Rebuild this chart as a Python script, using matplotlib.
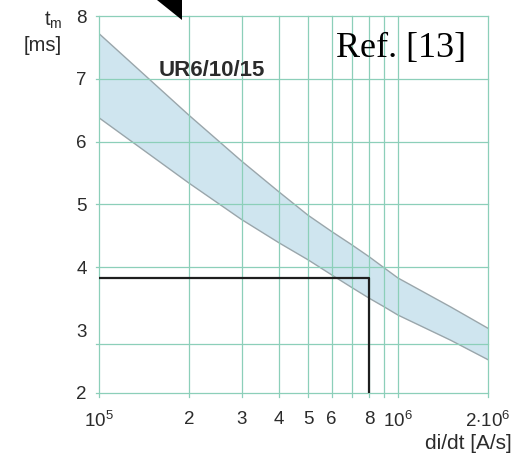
import matplotlib
matplotlib.use('Agg')
import matplotlib.pyplot as plt
import matplotlib.transforms as mtransforms
from matplotlib.patches import Polygon

plt.rcParams['font.family'] = ['Liberation Sans', 'DejaVu Sans']
plt.rcParams['mathtext.fontset'] = 'custom'
plt.rcParams['mathtext.rm'] = 'Liberation Sans'
plt.rcParams['mathtext.it'] = 'Liberation Sans'

# di/dt values [A/s]
didt = [1e5, 2e5, 3e5, 4e5, 5e5, 6e5, 7e5, 8e5, 9e5, 1e6, 1.5e6, 2e6]
# band limits of t_m [ms]
tm_upper = [7.72, 6.42, 5.69, 5.20, 4.83, 4.57, 4.36, 4.17, 3.99, 3.83, 3.37, 3.03]
tm_lower = [6.38, 5.34, 4.76, 4.39, 4.12, 3.88, 3.68, 3.51, 3.37, 3.24, 2.84, 2.53]

# marked operating point
mark_x = 8e5
mark_y = 3.83

x_ticks = [1e5, 2e5, 3e5, 4e5, 5e5, 6e5, 8e5, 1e6, 2e6]
x_labels = ['$10^5$', '2', '3', '4', '5', '6', '8', '$10^6$', '$2{\\cdot}10^6$']
x_grid = [1e5, 2e5, 3e5, 4e5, 5e5, 6e5, 7e5, 8e5, 9e5, 1e6, 2e6]
y_ticks = [2, 3, 4, 5, 6, 7, 8]
y_grid = [2, 2.78, 4, 5, 6, 7, 8]

grid_col = '#8ccfb9'
txt_col = '#2b2b2b'

fig = plt.figure(figsize=(5.16, 4.55), dpi=100)
ax = fig.add_axes([0.1919, 0.1363, 0.7538, 0.8285])

ax.fill_between(didt, tm_lower, tm_upper, color='#cfe5ef', lw=0, zorder=1)
ax.plot(didt, tm_upper, color='#9aa6ab', lw=1.0, zorder=2)
ax.plot(didt, tm_lower, color='#9aa6ab', lw=1.0, zorder=2)

ax.plot([1e5, mark_x, mark_x], [mark_y, mark_y, 2], color='#1e1e1e', lw=1.6, zorder=4)

ax.set_xscale('log')
ax.set_xlim(1e5, 2e6)
ax.set_ylim(2, 8)

# grid lines, sticking out a little past the left and bottom edges
tx = mtransforms.blended_transform_factory(ax.transData, ax.transAxes)
ty = mtransforms.blended_transform_factory(ax.transAxes, ax.transData)
for gx in x_grid:
    ax.plot([gx, gx], [-0.011, 1], transform=tx, color=grid_col, lw=0.9,
            clip_on=False, zorder=3)
for gy in y_grid:
    ax.plot([-0.008, 1], [gy, gy], transform=ty, color=grid_col, lw=0.9,
            clip_on=False, zorder=3)

ax.set_xticks(x_ticks)
ax.set_xticklabels(x_labels)
ax.set_xticks([], minor=True)
ax.set_yticks(y_ticks)
ax.set_yticks([], minor=True)

ax.tick_params(which='major', length=0, labelsize=13.5, labelcolor=txt_col)
ax.tick_params(axis='x', which='major', pad=13)
ax.tick_params(axis='y', which='major', pad=9)
for s in ax.spines.values():
    s.set_visible(False)

ax.text(1.58e5, 7.13, 'UR6/10/15', fontsize=16, fontweight='bold', color=txt_col,
        ha='left', va='center')

fig.text(0.1205, 0.955, '$t_m$', fontsize=14.5, color=txt_col, ha='right', va='center')
fig.text(0.1205, 0.901, '[ms]', fontsize=14.5, color=txt_col, ha='right', va='center')
fig.text(0.992, 0.026, 'di/dt [A/s]', fontsize=15, color=txt_col, ha='right', va='center')
fig.text(0.777, 0.893, 'Ref. [13]', fontsize=26, family='Liberation Serif',
         color='black', ha='center', va='center')

# black corner mark at the top of the original picture
fig.patches.append(Polygon([[0.3043, 1.0], [0.3527, 1.0], [0.3527, 0.956]],
                           closed=True, transform=fig.transFigure,
                           facecolor='black', edgecolor='none'))

plt.savefig('out.png', dpi=100)
